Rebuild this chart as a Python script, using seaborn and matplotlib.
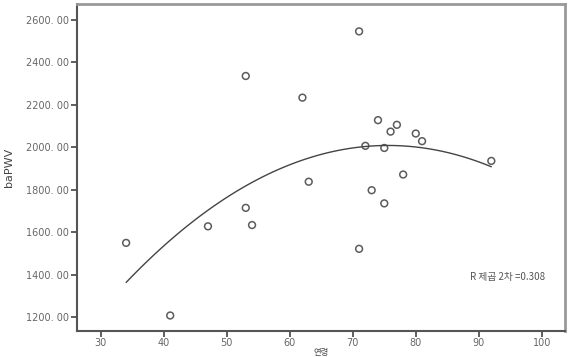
import matplotlib
matplotlib.use("Agg")
import matplotlib.pyplot as plt
import seaborn as sns
import numpy as np
import pandas as pd

age = [34, 41, 47, 53, 53, 54, 62, 63, 71, 71, 72, 73, 74, 75, 75, 76, 77, 78, 80, 81, 92]
bapwv = [1550, 1208, 1628, 2336, 1715, 1634, 2234, 1838, 2546, 1522, 2007, 1798, 2128, 1997, 1736,
         2074, 2106, 1872, 2065, 2029, 1936]
x_ticks = [30, 40, 50, 60, 70, 80, 90, 100]
y_ticks = [1200, 1400, 1600, 1800, 2000, 2200, 2400, 2600]
r2_text = "R 제곱 2차 =0.308"

df = pd.DataFrame({"age": age, "baPWV": bapwv})

sns.set_theme(style="white")
plt.rcParams['font.family'] = ['DejaVu Sans', 'Noto Sans CJK KR']

fig = plt.figure(figsize=(5.69, 3.57), dpi=100)
# axes box: left 77px, right 565px, top 4px, bottom 331px
ax = fig.add_axes([77 / 569, 26 / 357, 488 / 569, 327 / 357])

sns.regplot(data=df, x="age", y="baPWV", order=2, ci=None, truncate=True, ax=ax,
            scatter_kws=dict(marker="o", s=24, facecolors="none", edgecolors="#333333", linewidths=1.1),
            line_kws=dict(color="#444444", lw=1.0))

ax.set_xlim(26.2, 103.7)
ax.set_ylim(1135, 2675)
ax.set_xticks(x_ticks)
ax.set_xticklabels([str(t) for t in x_ticks])
ax.set_yticks(y_ticks)
ax.set_yticklabels([f"{t}. 00" for t in y_ticks])
ax.tick_params(axis="both", which="major", direction="out", length=4, width=1.2, color="#444444",
               labelsize=7, labelcolor="#666666", bottom=True, left=True, pad=2)
ax.tick_params(axis="x", pad=1)

for side in ["left", "bottom"]:
    ax.spines[side].set_color("#555555")
    ax.spines[side].set_linewidth(1.5)
for side in ["top", "right"]:
    ax.spines[side].set_color("#999999")
    ax.spines[side].set_linewidth(2.0)

ax.set_ylabel("baPWV", fontsize=8, color="#444444", labelpad=8)
ax.set_xlabel("연령", fontsize=6, color="#444444", labelpad=0,
              fontfamily=['Noto Sans CJK KR', 'DejaVu Sans'])

ax.text(0.959, 0.164, r2_text, transform=ax.transAxes, ha="right", va="center",
        fontsize=7, color="#555555", fontfamily=['Noto Sans CJK KR', 'DejaVu Sans'])

fig.savefig("out.png", dpi=100)
